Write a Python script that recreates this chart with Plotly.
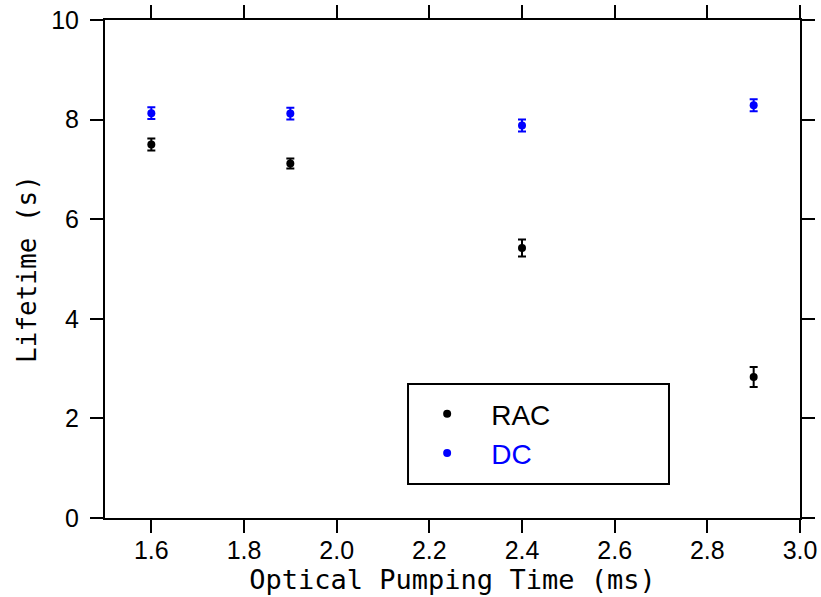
import plotly.graph_objects as go

x_vals = [1.6, 1.9, 2.4, 2.9]
rac_life = [7.50, 7.12, 5.42, 2.83]
rac_err = [0.12, 0.10, 0.17, 0.20]
dc_life = [8.13, 8.12, 7.88, 8.29]
dc_err = [0.12, 0.12, 0.12, 0.12]

fig = go.Figure()
fig.add_trace(go.Scatter(
    x=x_vals, y=rac_life, mode="markers", name="RAC",
    marker=dict(color="black", size=8),
    error_y=dict(type="data", array=rac_err, visible=True, color="black", thickness=2, width=4)))
fig.add_trace(go.Scatter(
    x=x_vals, y=dc_life, mode="markers", name="<span style='color:#0000ff'>DC</span>",
    marker=dict(color="#0000ff", size=8),
    error_y=dict(type="data", array=dc_err, visible=True, color="#0000ff", thickness=2, width=4)))

axis_common = dict(showline=True, linecolor="black", linewidth=2, mirror="allticks",
                   ticks="outside", ticklen=13, tickwidth=2, tickcolor="black",
                   showgrid=False, zeroline=False, automargin=False)

fig.update_xaxes(range=[1.5, 3.0], tick0=1.6, dtick=0.2, tickformat=".1f",
                 ticklabelstandoff=-4,
                 tickfont=dict(family="Liberation Sans", size=25, color="black"),
                 title=dict(text="Optical Pumping Time (ms)", standoff=0,
                            font=dict(family="DejaVu Sans Mono", size=27, color="black")),
                 **axis_common)
fig.update_yaxes(range=[0, 10], dtick=2, ticklabelstandoff=6,
                 tickfont=dict(family="Liberation Sans", size=25, color="black"),
                 title=dict(text="Lifetime (s)", standoff=7,
                            font=dict(family="DejaVu Sans Mono", size=26, color="black")),
                 **axis_common)

# legend frame
fig.add_shape(type="rect", xref="paper", yref="paper",
              x0=0.436, x1=0.8115, y0=0.0683, y1=0.269,
              line=dict(color="black", width=2), fillcolor="white", layer="below")

fig.update_layout(
    width=821, height=597,
    margin=dict(l=105, r=21, t=20, b=79),
    paper_bgcolor="white", plot_bgcolor="white",
    showlegend=True,
    legend=dict(x=0.429, y=0.259, xanchor="left", yanchor="top",
                bgcolor="rgba(0,0,0,0)", borderwidth=0,
                font=dict(family="Liberation Sans", size=28, color="black"),
                itemwidth=78),
)

fig.write_html("out.html")
